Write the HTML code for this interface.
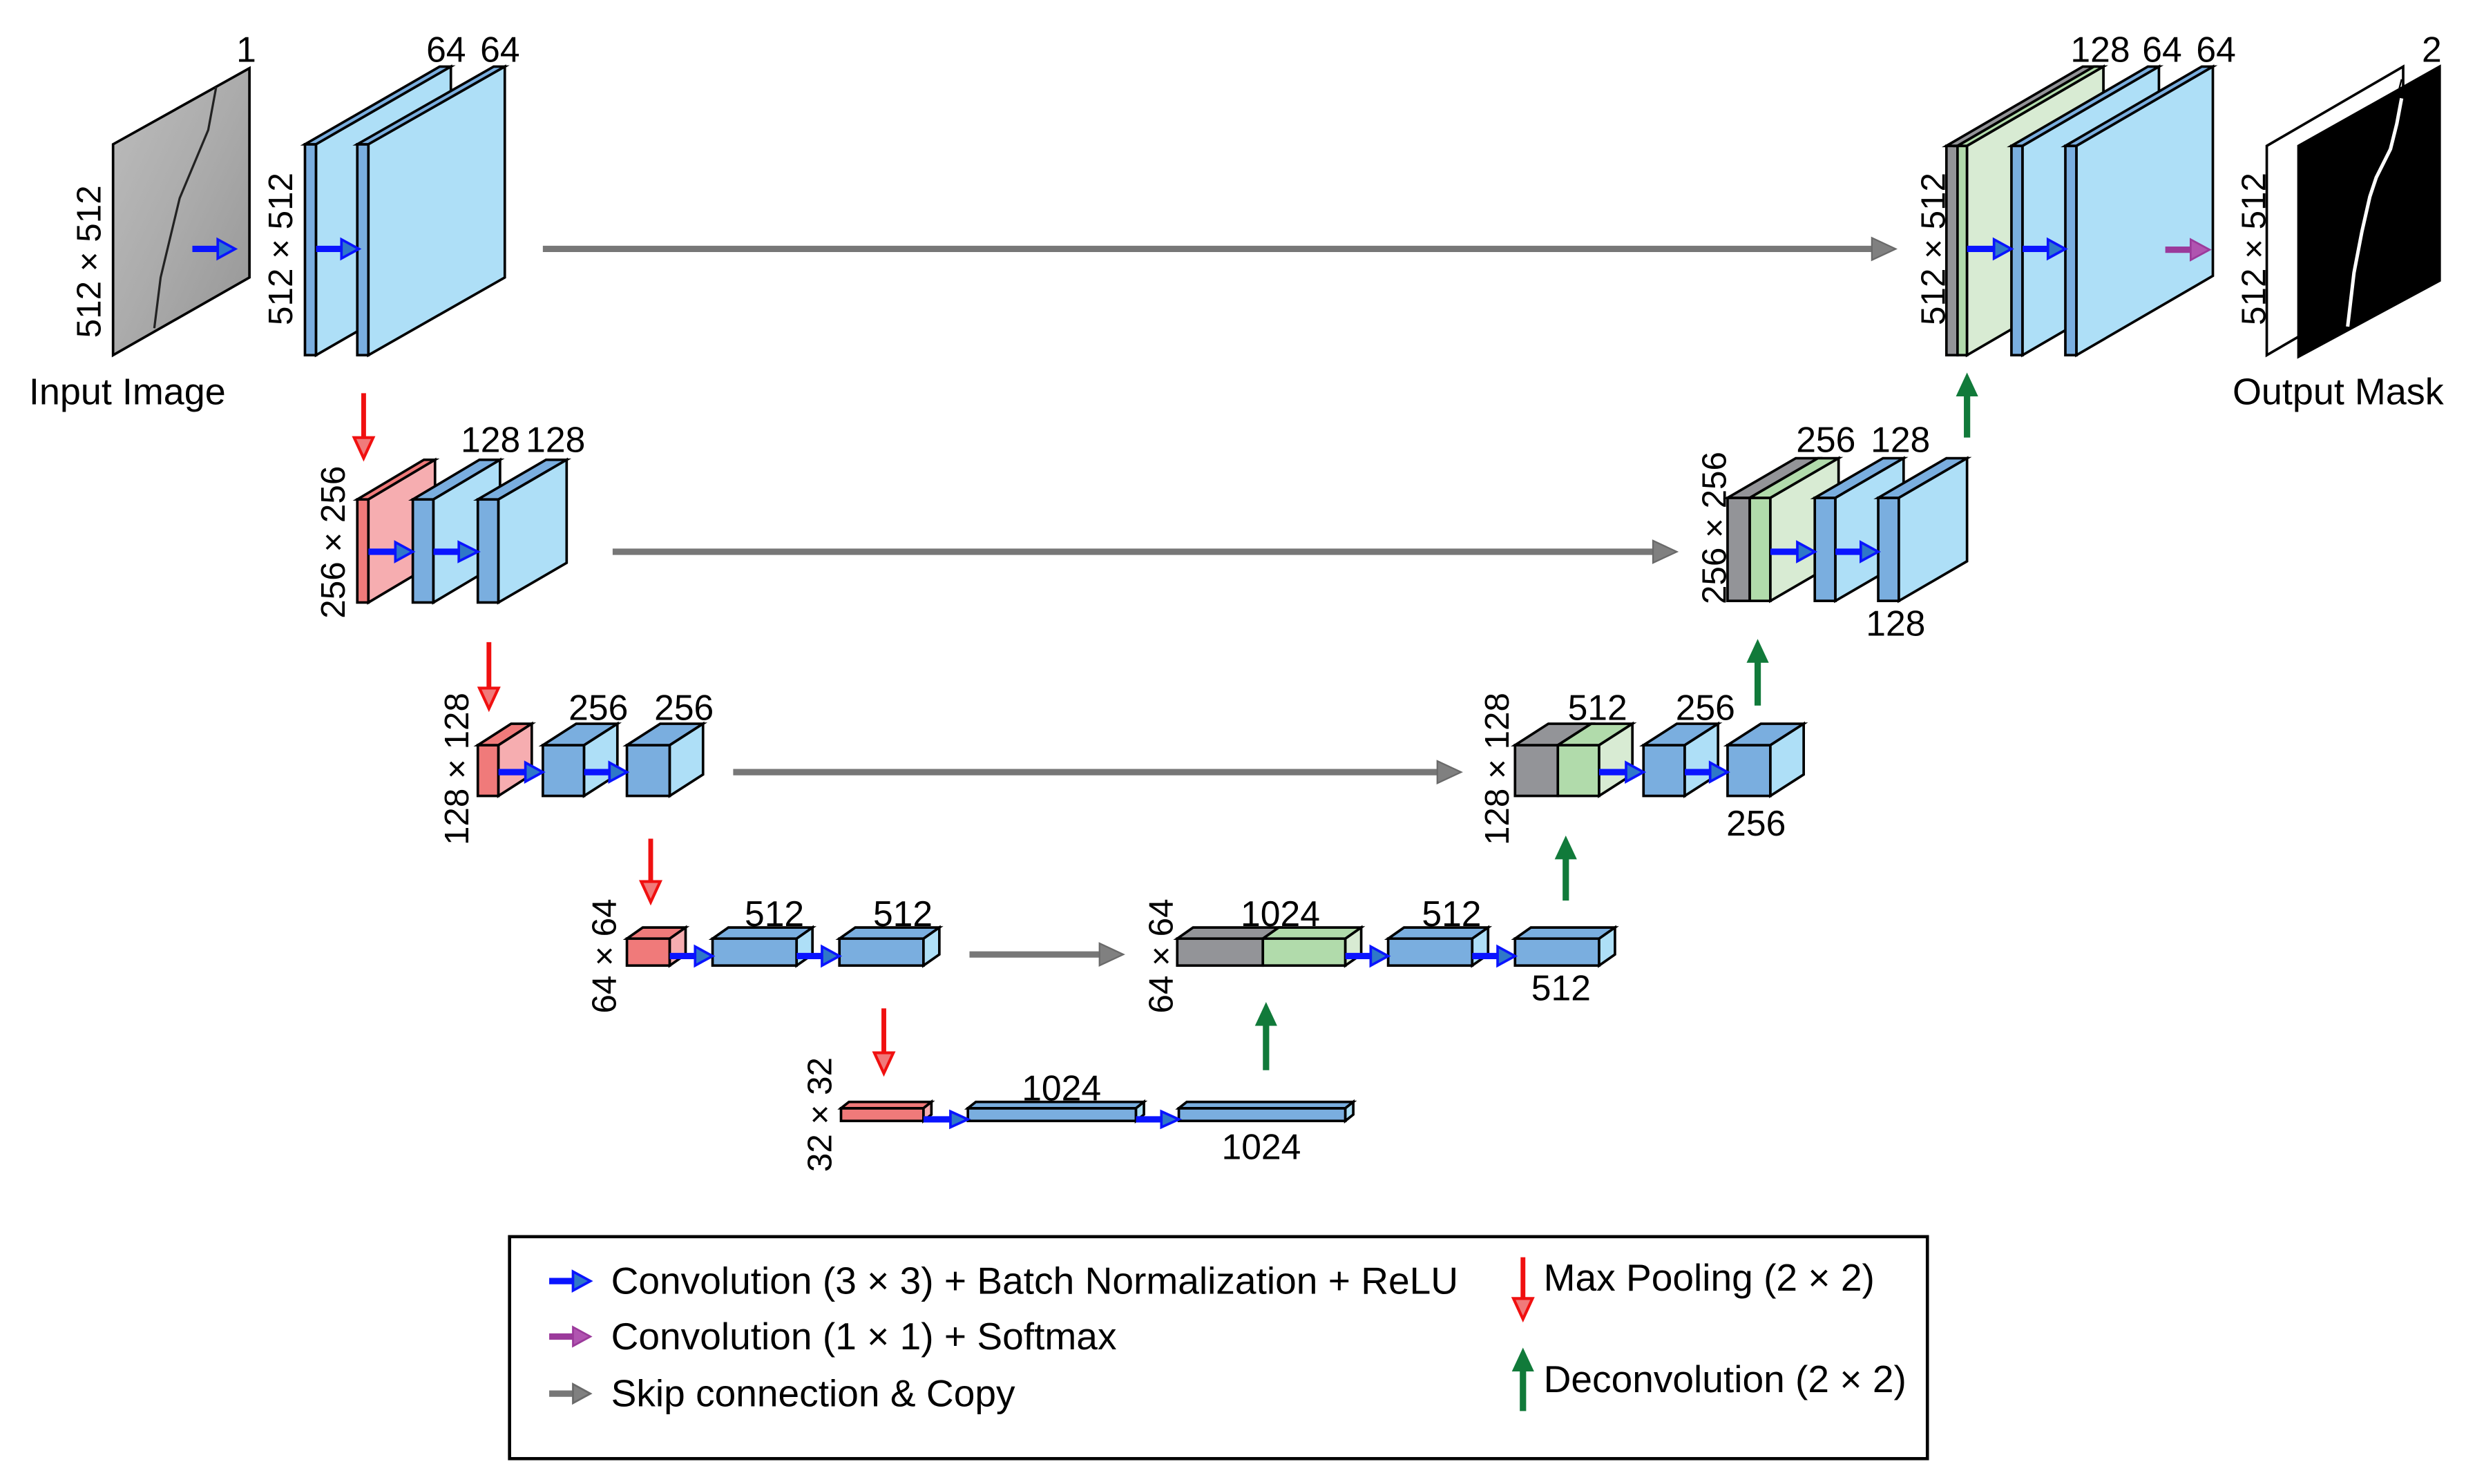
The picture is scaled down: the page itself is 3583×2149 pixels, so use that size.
<!DOCTYPE html>
<html><head><meta charset="utf-8"><style>
html,body{margin:0;padding:0;background:#fff}
svg{display:block}
text{font-family:"Liberation Sans",Arial,sans-serif;fill:#000}
</style></head><body>
<svg width="3583" height="2149" viewBox="0 0 1560 936" xmlns="http://www.w3.org/2000/svg">
<defs>
<linearGradient id="img" x1="0" y1="0" x2="1" y2="1">
<stop offset="0" stop-color="#bdbdbd"/><stop offset="0.5" stop-color="#ababab"/><stop offset="1" stop-color="#959595"/>
</linearGradient>
</defs>
<rect width="1560" height="936" fill="#fff"/>

<g stroke="#000" stroke-width="1.6" stroke-linejoin="miter">
<polygon points="71,91 157,43 157,175 71,224" fill="url(#img)"/>
<polyline points="136,55 131,82 113,125 101,175 97,207" fill="none" stroke="#222" stroke-width="1.4"/>

<rect x="192" y="91" width="7" height="133" fill="#7aaedf"/>
<polygon points="192,91 277,42 284,42 199,91" fill="#7aaedf"/>
<polygon points="199,91 284,42 284,175 199,224" fill="#aedff7"/>
<rect x="225" y="91" width="7" height="133" fill="#7aaedf"/>
<polygon points="225,91 311,42 318,42 232,91" fill="#7aaedf"/>
<polygon points="232,91 318,42 318,175 232,224" fill="#aedff7"/>

<rect x="225" y="315" width="7" height="65" fill="#f07a7a"/>
<polygon points="225,315 267,290 274,290 232,315" fill="#f07a7a"/>
<polygon points="232,315 274,290 274,355 232,380" fill="#f6adb0"/>
<rect x="260" y="315" width="13" height="65" fill="#7aaedf"/>
<polygon points="260,315 302,290 315,290 273,315" fill="#7aaedf"/>
<polygon points="273,315 315,290 315,355 273,380" fill="#aedff7"/>
<rect x="301" y="315" width="13" height="65" fill="#7aaedf"/>
<polygon points="301,315 344,290 357,290 314,315" fill="#7aaedf"/>
<polygon points="314,315 357,290 357,355 314,380" fill="#aedff7"/>

<rect x="301" y="470" width="13" height="32" fill="#f07a7a"/>
<polygon points="301,470 322,456.5 335,456.5 314,470" fill="#f07a7a"/>
<polygon points="314,470 335,456.5 335,488.5 314,502" fill="#f6adb0"/>
<rect x="342" y="470" width="26" height="32" fill="#7aaedf"/>
<polygon points="342,470 363,456.5 389,456.5 368,470" fill="#7aaedf"/>
<polygon points="368,470 389,456.5 389,488.5 368,502" fill="#aedff7"/>
<rect x="395" y="470" width="27" height="32" fill="#7aaedf"/>
<polygon points="395,470 416,456.5 443,456.5 422,470" fill="#7aaedf"/>
<polygon points="422,470 443,456.5 443,488.5 422,502" fill="#aedff7"/>

<rect x="395" y="592" width="27" height="17" fill="#f07a7a"/>
<polygon points="395,592 405,585 432,585 422,592" fill="#f07a7a"/>
<polygon points="422,592 432,585 432,602 422,609" fill="#f6adb0"/>
<rect x="449" y="592" width="53" height="17" fill="#7aaedf"/>
<polygon points="449,592 459,585 512,585 502,592" fill="#7aaedf"/>
<polygon points="502,592 512,585 512,602 502,609" fill="#aedff7"/>
<rect x="529" y="592" width="53" height="17" fill="#7aaedf"/>
<polygon points="529,592 539,585 592,585 582,592" fill="#7aaedf"/>
<polygon points="582,592 592,585 592,602 582,609" fill="#aedff7"/>

<rect x="530" y="699" width="52" height="8" fill="#f07a7a"/>
<polygon points="530,699 535,695 587,695 582,699" fill="#f07a7a"/>
<polygon points="582,699 587,695 587,703 582,707" fill="#f6adb0"/>
<rect x="610" y="699" width="106" height="8" fill="#7aaedf"/>
<polygon points="610,699 615,695 721,695 716,699" fill="#7aaedf"/>
<polygon points="716,699 721,695 721,703 716,707" fill="#aedff7"/>
<rect x="743" y="699" width="105" height="8" fill="#7aaedf"/>
<polygon points="743,699 748,695 853,695 848,699" fill="#7aaedf"/>
<polygon points="848,699 853,695 853,703 848,707" fill="#aedff7"/>

<rect x="742" y="592" width="54" height="17" fill="#939498"/>
<polygon points="742,592 752,585 806,585 796,592" fill="#939498"/>
<rect x="796" y="592" width="52" height="17" fill="#b1dbab"/>
<polygon points="796,592 806,585 858,585 848,592" fill="#b1dbab"/>
<polygon points="848,592 858,585 858,602 848,609" fill="#d8ebd3"/>
<rect x="875" y="592" width="53" height="17" fill="#7aaedf"/>
<polygon points="875,592 885,585 938,585 928,592" fill="#7aaedf"/>
<polygon points="928,592 938,585 938,602 928,609" fill="#aedff7"/>
<rect x="955" y="592" width="53" height="17" fill="#7aaedf"/>
<polygon points="955,592 965,585 1018,585 1008,592" fill="#7aaedf"/>
<polygon points="1008,592 1018,585 1018,602 1008,609" fill="#aedff7"/>

<rect x="955" y="470" width="27" height="32" fill="#939498"/>
<polygon points="955,470 976,456.5 1003,456.5 982,470" fill="#939498"/>
<rect x="982" y="470" width="26" height="32" fill="#b1dbab"/>
<polygon points="982,470 1003,456.5 1029,456.5 1008,470" fill="#b1dbab"/>
<polygon points="1008,470 1029,456.5 1029,488.5 1008,502" fill="#d8ebd3"/>
<rect x="1036" y="470" width="26" height="32" fill="#7aaedf"/>
<polygon points="1036,470 1057,456.5 1083,456.5 1062,470" fill="#7aaedf"/>
<polygon points="1062,470 1083,456.5 1083,488.5 1062,502" fill="#aedff7"/>
<rect x="1089" y="470" width="27" height="32" fill="#7aaedf"/>
<polygon points="1089,470 1110,456.5 1137,456.5 1116,470" fill="#7aaedf"/>
<polygon points="1116,470 1137,456.5 1137,488.5 1116,502" fill="#aedff7"/>

<rect x="1089" y="314" width="14" height="65" fill="#939498"/>
<polygon points="1089,314 1132,289 1146,289 1103,314" fill="#939498"/>
<rect x="1103" y="314" width="13" height="65" fill="#b1dbab"/>
<polygon points="1103,314 1146,289 1159,289 1116,314" fill="#b1dbab"/>
<polygon points="1116,314 1159,289 1159,354 1116,379" fill="#d8ebd3"/>
<rect x="1144" y="314" width="13" height="65" fill="#7aaedf"/>
<polygon points="1144,314 1187,289 1200,289 1157,314" fill="#7aaedf"/>
<polygon points="1157,314 1200,289 1200,354 1157,379" fill="#aedff7"/>
<rect x="1184" y="314" width="13" height="65" fill="#7aaedf"/>
<polygon points="1184,314 1227,289 1240,289 1197,314" fill="#7aaedf"/>
<polygon points="1197,314 1240,289 1240,354 1197,379" fill="#aedff7"/>

<rect x="1227" y="92" width="7" height="132" fill="#939498"/>
<polygon points="1227,92 1313,42 1320,42 1234,92" fill="#939498"/>
<rect x="1234" y="92" width="6" height="132" fill="#b1dbab"/>
<polygon points="1234,92 1320,42 1326,42 1240,92" fill="#b1dbab"/>
<polygon points="1240,92 1326,42 1326,174 1240,224" fill="#d8ebd3"/>
<rect x="1268" y="92" width="7" height="132" fill="#7aaedf"/>
<polygon points="1268,92 1354,42 1361,42 1275,92" fill="#7aaedf"/>
<polygon points="1275,92 1361,42 1361,174 1275,224" fill="#aedff7"/>
<rect x="1302" y="92" width="7" height="132" fill="#7aaedf"/>
<polygon points="1302,92 1388,42 1395,42 1309,92" fill="#7aaedf"/>
<polygon points="1309,92 1395,42 1395,174 1309,224" fill="#aedff7"/>

<polygon points="1429,92 1515,42 1515,174 1429,224" fill="#fff"/>
<polygon points="1449,92 1538,42 1538,177 1449,225" fill="#000"/>
</g>
<polyline points="1514,62 1511,78 1507,94 1498,112 1494,124 1489,146 1484,172 1480,206" fill="none" stroke="#fff" stroke-width="2.2"/>
<line x1="1514" y1="50" x2="1511" y2="62" stroke="#000" stroke-width="1"/>

<g stroke="#777" stroke-width="4" fill="#808080">
<line x1="342" y1="157" x2="1182" y2="157"/>
<line x1="386" y1="348" x2="1044" y2="348"/>
<line x1="462" y1="487" x2="908" y2="487"/>
<line x1="611" y1="602" x2="695" y2="602"/>
</g>
<g fill="#808080" stroke="#6a6a6a" stroke-width="1">
<polygon points="1180,150 1195,157 1180,164"/>
<polygon points="1042,341 1057,348 1042,355"/>
<polygon points="906,480 921,487 906,494"/>
<polygon points="693,595 708,602 693,609"/>
</g>

<g stroke="#0a14ff" stroke-width="4">
<line x1="121" y1="157" x2="138" y2="157"/>
<line x1="199" y1="157" x2="216" y2="157"/>
<line x1="232" y1="348" x2="250" y2="348"/>
<line x1="273" y1="348" x2="290" y2="348"/>
<line x1="314" y1="487" x2="332" y2="487"/>
<line x1="368" y1="487" x2="385" y2="487"/>
<line x1="422" y1="603" x2="439" y2="603"/>
<line x1="502" y1="603" x2="519" y2="603"/>
<line x1="582" y1="706" x2="600" y2="706"/>
<line x1="716" y1="706" x2="733" y2="706"/>
<line x1="848" y1="603" x2="865" y2="603"/>
<line x1="928" y1="603" x2="945" y2="603"/>
<line x1="1008" y1="487" x2="1026" y2="487"/>
<line x1="1062" y1="487" x2="1079" y2="487"/>
<line x1="1116" y1="348" x2="1134" y2="348"/>
<line x1="1157" y1="348" x2="1174" y2="348"/>
<line x1="1240" y1="157" x2="1258" y2="157"/>
<line x1="1275" y1="157" x2="1292" y2="157"/>
<line x1="346" y1="808" x2="362" y2="808"/>
</g>
<g fill="#2f78c8" stroke="#0a14ff" stroke-width="1.6">
<polygon points="137,151 148,157 137,163"/>
<polygon points="215,151 226,157 215,163"/>
<polygon points="249,342 260,348 249,354"/>
<polygon points="289,342 301,348 289,354"/>
<polygon points="331,481 342,487 331,493"/>
<polygon points="384,481 395,487 384,493"/>
<polygon points="438,597 449,603 438,609"/>
<polygon points="518,597 529,603 518,609"/>
<polygon points="599,701 610,706 599,711"/>
<polygon points="732,701 743,706 732,711"/>
<polygon points="864,597 875,603 864,609"/>
<polygon points="944,597 955,603 944,609"/>
<polygon points="1025,481 1036,487 1025,493"/>
<polygon points="1078,481 1089,487 1078,493"/>
<polygon points="1133,342 1144,348 1133,354"/>
<polygon points="1173,342 1184,348 1173,354"/>
<polygon points="1257,151 1268,157 1257,163"/>
<polygon points="1291,151 1302,157 1291,163"/>
<polygon points="361,802 372,808 361,814"/>
</g>

<line x1="1365" y1="157.5" x2="1382" y2="157.5" stroke="#9b3a9b" stroke-width="4"/>
<polygon points="1381,151 1393,157.5 1381,164" fill="#b054b0" stroke="#9b3a9b" stroke-width="1.2"/>
<line x1="346" y1="843" x2="362" y2="843" stroke="#9b3a9b" stroke-width="4"/>
<polygon points="361,837 372,843 361,849" fill="#b054b0" stroke="#9b3a9b" stroke-width="1.2"/>
<line x1="346" y1="879" x2="362" y2="879" stroke="#777" stroke-width="4"/>
<polygon points="361,873 372,879 361,885" fill="#808080" stroke="#6a6a6a" stroke-width="1.2"/>

<g stroke="#f01010" stroke-width="3">
<line x1="229" y1="248" x2="229" y2="277"/>
<line x1="308" y1="405" x2="308" y2="435"/>
<line x1="410" y1="529" x2="410" y2="557"/>
<line x1="557" y1="636" x2="557" y2="665"/>
<line x1="960" y1="793" x2="960" y2="820"/>
</g>
<g fill="#f07a7a" stroke="#f01010" stroke-width="1.8">
<polygon points="223,276 235,276 229,289"/>
<polygon points="302,434 314,434 308,447"/>
<polygon points="404,556 416,556 410,569"/>
<polygon points="551,664 563,664 557,677"/>
<polygon points="954,819 966,819 960,832"/>
</g>

<g stroke="#117a3a" stroke-width="4">
<line x1="1240" y1="276" x2="1240" y2="248"/>
<line x1="1108" y1="445" x2="1108" y2="416"/>
<line x1="987" y1="568" x2="987" y2="540"/>
<line x1="798" y1="675" x2="798" y2="645"/>
<line x1="960" y1="890" x2="960" y2="863"/>
</g>
<g fill="#117a3a">
<polygon points="1233,250 1247,250 1240,235"/>
<polygon points="1101,418 1115,418 1108,403"/>
<polygon points="980,542 994,542 987,527"/>
<polygon points="791,647 805,647 798,632"/>
<polygon points="953,865 967,865 960,850"/>
</g>

<g font-size="22.5" text-anchor="middle">
<text x="155" y="39">1</text>
<text x="281" y="39">64</text>
<text x="315" y="39">64</text>
<text x="1324" y="39">128</text>
<text x="1363" y="39">64</text>
<text x="1397" y="39">64</text>
<text x="1533" y="39">2</text>
<text x="309" y="285">128</text>
<text x="350" y="285">128</text>
<text x="1151" y="285">256</text>
<text x="1198" y="285">128</text>
<text x="1195" y="401">128</text>
<text x="377" y="454">256</text>
<text x="431" y="454">256</text>
<text x="1007" y="454">512</text>
<text x="1075" y="454">256</text>
<text x="1107" y="527">256</text>
<text x="488" y="584">512</text>
<text x="569" y="584">512</text>
<text x="807" y="584">1024</text>
<text x="915" y="584">512</text>
<text x="984" y="631">512</text>
<text x="669" y="694">1024</text>
<text x="795" y="731">1024</text>
</g>
<g font-size="21.5" text-anchor="middle">
<text transform="translate(63,165) rotate(-90)">512 × 512</text>
<text transform="translate(184,157) rotate(-90)">512 × 512</text>
<text transform="translate(1226,157) rotate(-90)">512 × 512</text>
<text transform="translate(1428,157) rotate(-90)">512 × 512</text>
<text transform="translate(217,342) rotate(-90)">256 × 256</text>
<text transform="translate(1088,333) rotate(-90)">256 × 256</text>
<text transform="translate(295,485) rotate(-90)">128 × 128</text>
<text transform="translate(951,485) rotate(-90)">128 × 128</text>
<text transform="translate(388,603) rotate(-90)">64 × 64</text>
<text transform="translate(739,603) rotate(-90)">64 × 64</text>
<text transform="translate(524,703) rotate(-90)">32 × 32</text>
</g>
<g font-size="23.5" text-anchor="middle">
<text x="80" y="255">Input Image</text>
<text x="1474" y="255">Output Mask</text>
</g>

<rect x="321" y="780" width="894" height="140" fill="none" stroke="#000" stroke-width="2"/>
<g font-size="24">
<text x="385" y="816">Convolution (3 × 3) + Batch Normalization + ReLU</text>
<text x="385" y="851">Convolution (1 × 1) + Softmax</text>
<text x="385" y="887">Skip connection &amp; Copy</text>
<text x="973" y="814">Max Pooling (2 × 2)</text>
<text x="973" y="878">Deconvolution (2 × 2)</text>
</g>
</svg>
</body></html>
